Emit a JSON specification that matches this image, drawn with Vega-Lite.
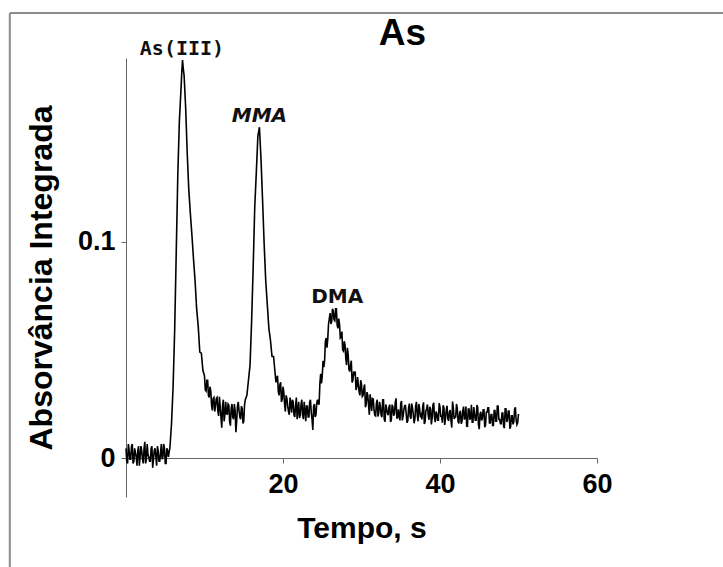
{
  "$schema": "https://vega.github.io/schema/vega-lite/v6.json",
  "width": 471,
  "height": 439,
  "autosize": {"type": "none"},
  "padding": {"left": 126, "top": 58, "right": 126, "bottom": 70},
  "background": "white",
  "config": {"font": "Liberation Sans", "view": {"stroke": null}},
  "title": {"text": "As", "fontSize": 37, "fontWeight": "bold", "font": "Liberation Sans", "anchor": "middle", "dx": 41, "frame": "group", "offset": -41, "color": "#000"},
  "encoding": {
    "x": {"field": "t", "type": "quantitative", "scale": {"domain": [0, 60], "nice": false, "zero": false},
      "axis": {"title": "Tempo, s", "values": [20, 40, 60], "offset": -39, "grid": false, "domainColor": "#666", "tickColor": "#666", "tickSize": 5, "labelFontSize": 27, "labelFontWeight": "bold", "labelColor": "#000", "labelPadding": 8, "labelFlush": false, "titleFontSize": 30, "titleFontWeight": "bold", "titleColor": "#000", "titlePadding": 16}},
    "y": {"field": "a", "type": "quantitative", "scale": {"domain": [-0.018, 0.185], "nice": false, "zero": false},
      "axis": {"title": "Absorvância Integrada", "values": [0, 0.1], "format": "~g", "grid": false, "domainColor": "#666", "tickColor": "#666", "tickSize": 5, "labelFontSize": 27, "labelFontWeight": "bold", "labelColor": "#000", "labelPadding": 6, "titleFontSize": 32, "titleFontWeight": "bold", "titleColor": "#000", "titlePadding": 19}}
  },
  "layer": [
    {
      "data": {"values": [
        {"t": -14.8, "t2": -14.8, "a": -0.06, "a2": 0.2058},
        {"t": -14.8, "t2": 80, "a": 0.2058, "a2": 0.2058}
      ]},
      "mark": {"type": "rule", "color": "#8c8c8c", "strokeWidth": 2},
      "encoding": {"x2": {"field": "t2"}, "y2": {"field": "a2"}}
    },
    {
      "data": {"values": [
        {"t":0,"a":0.0045},{"t":0.1,"a":-0.0015},{"t":0.2,"a":-0.0025},{"t":0.3,"a":0.0065},{"t":0.4,"a":0.0035},{"t":0.5,"a":-0.0005},{"t":0.6,"a":-0.0005},{"t":0.7,"a":0.0055},{"t":0.8,"a":0.0065},{"t":0.9,"a":-0.0025},
        {"t":1,"a":-0.0015},{"t":1.1,"a":0.0045},{"t":1.2,"a":0.0025},{"t":1.3,"a":0.0005},{"t":1.4,"a":-0.0035},{"t":1.5,"a":0.0035},{"t":1.6,"a":0.0055},{"t":1.7,"a":-0.0035},{"t":1.8,"a":0.0005},{"t":1.9,"a":0.0055},
        {"t":2,"a":0.0035},{"t":2.1,"a":-0.0005},{"t":2.2,"a":-0.0025},{"t":2.3,"a":0.0045},{"t":2.4,"a":0.0075},{"t":2.5,"a":-0.0025},{"t":2.6,"a":-0.0005},{"t":2.7,"a":0.0065},{"t":2.8,"a":0.0015},{"t":2.9,"a":0.0005},
        {"t":3,"a":-0.0015},{"t":3.1,"a":-0.0015},{"t":3.2,"a":0.0045},{"t":3.3,"a":0.0055},{"t":3.4,"a":-0.0045},{"t":3.5,"a":-0.0005},{"t":3.6,"a":0.0035},{"t":3.7,"a":0.0045},{"t":3.8,"a":0.0005},{"t":3.9,"a":-0.0035},
        {"t":4,"a":0.0055},{"t":4.1,"a":0.0035},{"t":4.2,"a":-0.0015},{"t":4.3,"a":-0.0015},{"t":4.4,"a":0.0025},{"t":4.5,"a":0.0065},{"t":4.6,"a":-0.0005},{"t":4.7,"a":0.0005},{"t":4.8,"a":0.0065},{"t":4.9,"a":0.0045},
        {"t":5,"a":-0.0025},{"t":5.1,"a":-0.0025},{"t":5.2,"a":0.0045},{"t":5.3,"a":0.0035},{"t":5.4,"a":0.0005},{"t":5.6,"a":0.005},{"t":5.8,"a":0.016},
        {"t":6,"a":0.033},{"t":6.2,"a":0.059},{"t":6.4,"a":0.095},{"t":6.6,"a":0.131},{"t":6.8,"a":0.156},
        {"t":7,"a":0.17},{"t":7.1,"a":0.178},{"t":7.2,"a":0.184},{"t":7.3,"a":0.18},{"t":7.4,"a":0.177},
        {"t":7.6,"a":0.162},{"t":7.8,"a":0.141},{"t":8,"a":0.124},{"t":8.2,"a":0.113},{"t":8.4,"a":0.103},
        {"t":8.6,"a":0.092},{"t":8.8,"a":0.082},{"t":9,"a":0.069},{"t":9.2,"a":0.061},{"t":9.4,"a":0.049},
        {"t":9.6,"a":0.0485},{"t":9.8,"a":0.0405},
        {"t":10,"a":0.038},{"t":10.1,"a":0.0315},{"t":10.2,"a":0.031},{"t":10.3,"a":0.036},{"t":10.4,"a":0.036},{"t":10.5,"a":0.029},{"t":10.6,"a":0.028},{"t":10.7,"a":0.033},{"t":10.8,"a":0.031},{"t":10.9,"a":0.0245},
        {"t":11,"a":0.022},{"t":11.1,"a":0.0275},{"t":11.2,"a":0.028},{"t":11.3,"a":0.0215},{"t":11.4,"a":0.024},{"t":11.5,"a":0.0275},{"t":11.6,"a":0.028},{"t":11.7,"a":0.0218},{"t":11.8,"a":0.0195},{"t":11.9,"a":0.0283},
        {"t":12,"a":0.024},{"t":12.1,"a":0.0185},{"t":12.2,"a":0.014},{"t":12.3,"a":0.024},{"t":12.4,"a":0.027},{"t":12.5,"a":0.017},{"t":12.6,"a":0.02},{"t":12.7,"a":0.026},{"t":12.8,"a":0.021},{"t":12.9,"a":0.02},
        {"t":13,"a":0.025},{"t":13.1,"a":0.0245},{"t":13.2,"a":0.017},{"t":13.3,"a":0.015},{"t":13.4,"a":0.023},{"t":13.5,"a":0.025},{"t":13.6,"a":0.019},{"t":13.7,"a":0.018},{"t":13.8,"a":0.025},{"t":13.9,"a":0.022},
        {"t":14,"a":0.012},{"t":14.1,"a":0.017},{"t":14.2,"a":0.024},{"t":14.3,"a":0.026},{"t":14.4,"a":0.022},{"t":14.5,"a":0.019},{"t":14.6,"a":0.018},{"t":14.7,"a":0.024},{"t":14.8,"a":0.023},{"t":14.9,"a":0.016},
        {"t":15,"a":0.017},{"t":15.1,"a":0.0245},{"t":15.2,"a":0.027},{"t":15.4,"a":0.029},
        {"t":15.6,"a":0.036},{"t":15.8,"a":0.043},{"t":16,"a":0.063},{"t":16.2,"a":0.088},{"t":16.4,"a":0.116},
        {"t":16.6,"a":0.132},{"t":16.8,"a":0.149},{"t":17,"a":0.153},{"t":17.2,"a":0.138},{"t":17.4,"a":0.119},
        {"t":17.6,"a":0.099},{"t":17.8,"a":0.082},{"t":18,"a":0.071},{"t":18.2,"a":0.06},{"t":18.4,"a":0.0545},
        {"t":18.6,"a":0.047},{"t":18.8,"a":0.047},{"t":19,"a":0.039},{"t":19.1,"a":0.035},{"t":19.2,"a":0.037},{"t":19.3,"a":0.038},{"t":19.4,"a":0.031},{"t":19.5,"a":0.029},
        {"t":19.6,"a":0.034},{"t":19.7,"a":0.035},{"t":19.8,"a":0.026},{"t":19.9,"a":0.027},{"t":20,"a":0.033},{"t":20.1,"a":0.0305},{"t":20.2,"a":0.025},{"t":20.3,"a":0.0215},{"t":20.4,"a":0.029},{"t":20.5,"a":0.0275},
        {"t":20.6,"a":0.024},{"t":20.7,"a":0.0215},{"t":20.8,"a":0.02},{"t":20.9,"a":0.028},{"t":21,"a":0.0255},{"t":21.1,"a":0.021},{"t":21.2,"a":0.027},{"t":21.3,"a":0.026},{"t":21.4,"a":0.02},{"t":21.5,"a":0.019},
        {"t":21.6,"a":0.024},{"t":21.7,"a":0.028},{"t":21.8,"a":0.018},{"t":21.9,"a":0.022},{"t":22,"a":0.026},{"t":22.1,"a":0.0185},{"t":22.2,"a":0.02},{"t":22.3,"a":0.025},{"t":22.4,"a":0.027},{"t":22.5,"a":0.02},
        {"t":22.6,"a":0.018},{"t":22.7,"a":0.026},{"t":22.8,"a":0.022},{"t":22.9,"a":0.017},{"t":23,"a":0.024},{"t":23.1,"a":0.024},{"t":23.2,"a":0.019},{"t":23.3,"a":0.019},{"t":23.4,"a":0.026},{"t":23.5,"a":0.027},
        {"t":23.6,"a":0.021},{"t":23.7,"a":0.018},{"t":23.8,"a":0.013},{"t":23.9,"a":0.024},{"t":24,"a":0.025},{"t":24.1,"a":0.019},{"t":24.2,"a":0.02},{"t":24.3,"a":0.0255},{"t":24.4,"a":0.027},{"t":24.5,"a":0.025},
        {"t":24.6,"a":0.025},{"t":24.7,"a":0.0345},{"t":24.8,"a":0.039},{"t":24.9,"a":0.0345},{"t":25,"a":0.038},{"t":25.1,"a":0.045},{"t":25.2,"a":0.042},{"t":25.3,"a":0.045},{"t":25.4,"a":0.054},{"t":25.5,"a":0.0555},
        {"t":25.6,"a":0.051},{"t":25.7,"a":0.055},{"t":25.8,"a":0.062},{"t":25.9,"a":0.0645},{"t":26,"a":0.067},{"t":26.1,"a":0.062},{"t":26.2,"a":0.063},{"t":26.3,"a":0.069},{"t":26.4,"a":0.068},{"t":26.5,"a":0.064},
        {"t":26.6,"a":0.0635},{"t":26.7,"a":0.069},{"t":26.8,"a":0.069},{"t":26.9,"a":0.0615},{"t":27,"a":0.06},{"t":27.1,"a":0.0645},{"t":27.2,"a":0.062},{"t":27.3,"a":0.0555},{"t":27.4,"a":0.056},{"t":27.5,"a":0.0585},
        {"t":27.6,"a":0.05},{"t":27.7,"a":0.0495},{"t":27.8,"a":0.054},{"t":27.9,"a":0.0525},{"t":28,"a":0.046},{"t":28.1,"a":0.043},{"t":28.2,"a":0.051},{"t":28.3,"a":0.048},{"t":28.4,"a":0.041},{"t":28.5,"a":0.04},
        {"t":28.6,"a":0.043},{"t":28.7,"a":0.045},{"t":28.8,"a":0.035},{"t":28.9,"a":0.036},{"t":29,"a":0.04},{"t":29.1,"a":0.039},{"t":29.2,"a":0.04},{"t":29.3,"a":0.0315},{"t":29.4,"a":0.033},{"t":29.5,"a":0.0375},
        {"t":29.6,"a":0.034},{"t":29.7,"a":0.0305},{"t":29.8,"a":0.029},{"t":29.9,"a":0.036},{"t":30,"a":0.034},{"t":30.1,"a":0.0285},{"t":30.2,"a":0.029},{"t":30.3,"a":0.0325},{"t":30.4,"a":0.034},{"t":30.5,"a":0.0235},
        {"t":30.6,"a":0.025},{"t":30.7,"a":0.0305},{"t":30.8,"a":0.029},{"t":30.9,"a":0.0245},{"t":31,"a":0.02},{"t":31.1,"a":0.0295},{"t":31.2,"a":0.026},{"t":31.3,"a":0.0218},{"t":31.4,"a":0.0275},{"t":31.5,"a":0.0273},
        {"t":31.6,"a":0.022},{"t":31.7,"a":0.0198},{"t":31.8,"a":0.0195},{"t":31.9,"a":0.0253},{"t":32,"a":0.027},{"t":32.1,"a":0.0192},{"t":32.2,"a":0.021},{"t":32.3,"a":0.026},{"t":32.4,"a":0.024},{"t":32.5,"a":0.0199},
        {"t":32.6,"a":0.0189},{"t":32.7,"a":0.0269},{"t":32.8,"a":0.0269},{"t":32.9,"a":0.0178},{"t":33,"a":0.0168},{"t":33.1,"a":0.0248},{"t":33.2,"a":0.0228},{"t":33.3,"a":0.0208},{"t":33.4,"a":0.0198},{"t":33.5,"a":0.0237},
        {"t":33.6,"a":0.0247},{"t":33.7,"a":0.0167},{"t":33.8,"a":0.0177},{"t":33.9,"a":0.0247},{"t":34,"a":0.0236},{"t":34.1,"a":0.0196},{"t":34.2,"a":0.0206},{"t":34.3,"a":0.0256},{"t":34.4,"a":0.0276},{"t":34.5,"a":0.0185},
        {"t":34.6,"a":0.0185},{"t":34.7,"a":0.0225},{"t":34.8,"a":0.0195},{"t":34.9,"a":0.0174},{"t":35,"a":0.0254},{"t":35.1,"a":0.0264},{"t":35.2,"a":0.0174},{"t":35.3,"a":0.0194},{"t":35.4,"a":0.0224},{"t":35.5,"a":0.0243},
        {"t":35.6,"a":0.0243},{"t":35.7,"a":0.0203},{"t":35.8,"a":0.0163},{"t":35.9,"a":0.0173},{"t":36,"a":0.0232},{"t":36.1,"a":0.0252},{"t":36.2,"a":0.0192},{"t":36.3,"a":0.0182},{"t":36.4,"a":0.0252},{"t":36.5,"a":0.0231},
        {"t":36.6,"a":0.0201},{"t":36.7,"a":0.0161},{"t":36.8,"a":0.0181},{"t":36.9,"a":0.024},{"t":37,"a":0.026},{"t":37.1,"a":0.02},{"t":37.2,"a":0.017},{"t":37.3,"a":0.025},{"t":37.4,"a":0.023},{"t":37.5,"a":0.0189},
        {"t":37.6,"a":0.0199},{"t":37.7,"a":0.0179},{"t":37.8,"a":0.0239},{"t":37.9,"a":0.0258},{"t":38,"a":0.0158},{"t":38.1,"a":0.0168},{"t":38.2,"a":0.0218},{"t":38.3,"a":0.0228},{"t":38.4,"a":0.0248},{"t":38.5,"a":0.0197},
        {"t":38.6,"a":0.0177},{"t":38.7,"a":0.0237},{"t":38.8,"a":0.0227},{"t":38.9,"a":0.0156},{"t":39,"a":0.0186},{"t":39.1,"a":0.0246},{"t":39.2,"a":0.0256},{"t":39.3,"a":0.0186},{"t":39.4,"a":0.0166},{"t":39.5,"a":0.0215},
        {"t":39.6,"a":0.0205},{"t":39.7,"a":0.0175},{"t":39.8,"a":0.0175},{"t":39.9,"a":0.0254},{"t":40,"a":0.0234},{"t":40.1,"a":0.0194},{"t":40.2,"a":0.0194},{"t":40.3,"a":0.0164},{"t":40.4,"a":0.0244},{"t":40.5,"a":0.0233},
        {"t":40.6,"a":0.0153},{"t":40.7,"a":0.0183},{"t":40.8,"a":0.0223},{"t":40.9,"a":0.0242},{"t":41,"a":0.0182},{"t":41.1,"a":0.0172},{"t":41.2,"a":0.0212},{"t":41.3,"a":0.0222},{"t":41.4,"a":0.0172},{"t":41.5,"a":0.0141},
        {"t":41.6,"a":0.0261},{"t":41.7,"a":0.0231},{"t":41.8,"a":0.0181},{"t":41.9,"a":0.019},{"t":42,"a":0.019},{"t":42.1,"a":0.025},{"t":42.2,"a":0.023},{"t":42.3,"a":0.017},{"t":42.4,"a":0.016},{"t":42.5,"a":0.0209},
        {"t":42.6,"a":0.0219},{"t":42.7,"a":0.0159},{"t":42.8,"a":0.0169},{"t":42.9,"a":0.0218},{"t":43,"a":0.0238},{"t":43.1,"a":0.0178},{"t":43.2,"a":0.0188},{"t":43.3,"a":0.0238},{"t":43.4,"a":0.0148},{"t":43.5,"a":0.0147},
        {"t":43.6,"a":0.0227},{"t":43.7,"a":0.0227},{"t":43.8,"a":0.0177},{"t":43.9,"a":0.0186},{"t":44,"a":0.0246},{"t":44.1,"a":0.0166},{"t":44.2,"a":0.0166},{"t":44.3,"a":0.0236},{"t":44.4,"a":0.0206},{"t":44.5,"a":0.0175},
        {"t":44.6,"a":0.0175},{"t":44.7,"a":0.0245},{"t":44.8,"a":0.0235},{"t":44.9,"a":0.0154},{"t":45,"a":0.0134},{"t":45.1,"a":0.0204},{"t":45.2,"a":0.0214},{"t":45.3,"a":0.0174},{"t":45.4,"a":0.0184},{"t":45.5,"a":0.0223},
        {"t":45.6,"a":0.0223},{"t":45.7,"a":0.0143},{"t":45.8,"a":0.0153},{"t":45.9,"a":0.0212},{"t":46,"a":0.0212},{"t":46.1,"a":0.0232},{"t":46.2,"a":0.0232},{"t":46.3,"a":0.0162},{"t":46.4,"a":0.0162},{"t":46.5,"a":0.0201},
        {"t":46.6,"a":0.0201},{"t":46.7,"a":0.0151},{"t":46.8,"a":0.0151},{"t":46.9,"a":0.022},{"t":47,"a":0.022},{"t":47.1,"a":0.017},{"t":47.2,"a":0.017},{"t":47.3,"a":0.024},{"t":47.4,"a":0.024},{"t":47.5,"a":0.0179},
        {"t":47.6,"a":0.0179},{"t":47.7,"a":0.0159},{"t":47.8,"a":0.0159},{"t":47.9,"a":0.0208},{"t":48,"a":0.0208},{"t":48.1,"a":0.0148},{"t":48.2,"a":0.0138},{"t":48.3,"a":0.0228},{"t":48.4,"a":0.0228},{"t":48.5,"a":0.0167},
        {"t":48.6,"a":0.0177},{"t":48.7,"a":0.0217},{"t":48.8,"a":0.0217},{"t":48.9,"a":0.0136},{"t":49,"a":0.0146},{"t":49.1,"a":0.0196},{"t":49.2,"a":0.0196},{"t":49.3,"a":0.0156},{"t":49.4,"a":0.0166},{"t":49.5,"a":0.0225},
        {"t":49.6,"a":0.0235},{"t":49.7,"a":0.0175},{"t":49.8,"a":0.0155},{"t":49.9,"a":0.0164},{"t":50,"a":0.0204}
      ]},
      "mark": {"type": "line", "color": "#000", "strokeWidth": 1.6}
    },
    {
      "data": {"values": [{"t": 7.13, "a": 0.1864, "label": "As(III)"}]},
      "mark": {"type": "text", "font": "DejaVu Sans Mono", "fontWeight": "bold", "fontSize": 20, "align": "center", "baseline": "alphabetic", "color": "#111"},
      "encoding": {"text": {"field": "label"}}
    },
    {
      "data": {"values": [{"t": 17.0, "a": 0.1554, "label": "MMA"}]},
      "mark": {"type": "text", "font": "DejaVu Sans", "fontWeight": "bold", "fontStyle": "italic", "fontSize": 20, "align": "center", "baseline": "alphabetic", "color": "#111"},
      "encoding": {"text": {"field": "label"}}
    },
    {
      "data": {"values": [{"t": 26.9, "a": 0.0717, "label": "DMA"}]},
      "mark": {"type": "text", "font": "DejaVu Sans", "fontWeight": "bold", "fontSize": 20, "align": "center", "baseline": "alphabetic", "color": "#111"},
      "encoding": {"text": {"field": "label"}}
    }
  ]
}
